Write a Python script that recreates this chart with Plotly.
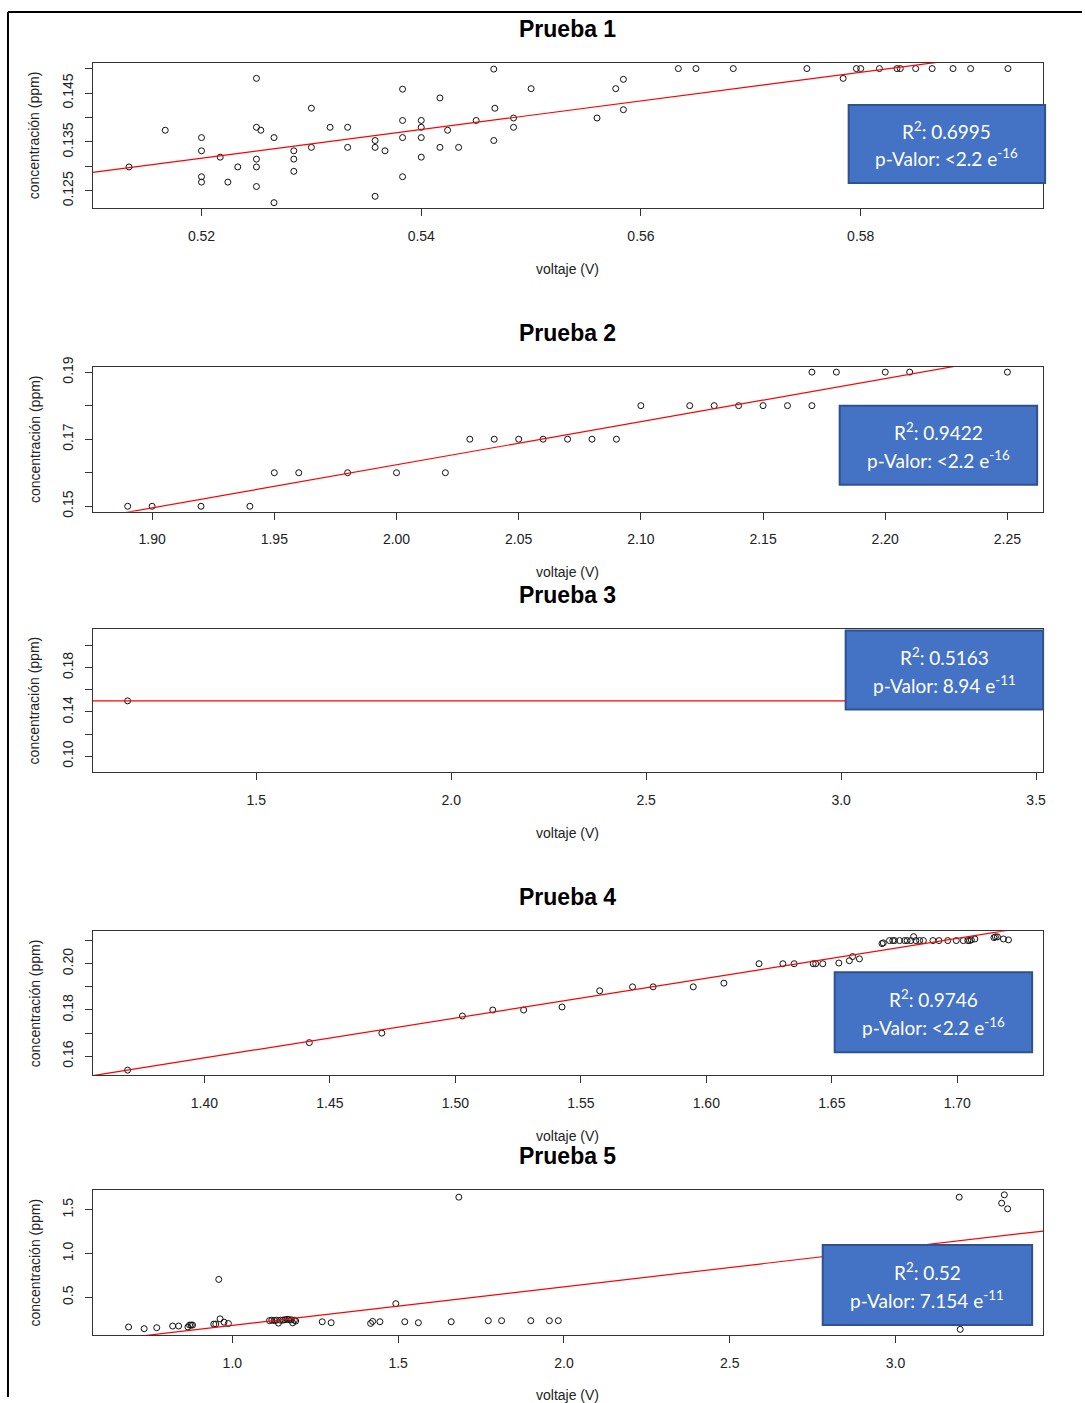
import plotly.graph_objects as go

W, H = 1085, 1403

# ---------------- data ----------------
p1_x = [0.5134, 0.5167, 0.5200, 0.5200, 0.5200, 0.5200, 0.5217, 0.5224, 0.5233, 0.5250,
        0.5250, 0.5254, 0.5250, 0.5250, 0.5250, 0.5266, 0.5266, 0.5284, 0.5284, 0.5284,
        0.5300, 0.5300, 0.5317, 0.5333, 0.5333, 0.5358, 0.5358, 0.5358, 0.5367, 0.5383,
        0.5383, 0.5383, 0.5383, 0.5400, 0.5400, 0.5400, 0.5400, 0.5417, 0.5417, 0.5424,
        0.5434, 0.5450, 0.5466, 0.5467, 0.5466, 0.5484, 0.5484, 0.5500, 0.5560, 0.5577,
        0.5584, 0.5584, 0.5634, 0.5650, 0.5684, 0.5751, 0.5784, 0.5796, 0.5800, 0.5817,
        0.5833, 0.5836, 0.5850, 0.5865, 0.5884, 0.5900, 0.5934]
p1_y = [0.1299, 0.1374, 0.1359, 0.1332, 0.1279, 0.1268, 0.1319, 0.1268, 0.1299, 0.1480,
        0.1380, 0.1374, 0.1315, 0.1299, 0.1259, 0.1359, 0.1226, 0.1332, 0.1315, 0.1290,
        0.1419, 0.1339, 0.1380, 0.1380, 0.1339, 0.1353, 0.1339, 0.1239, 0.1332, 0.1458,
        0.1394, 0.1359, 0.1279, 0.1394, 0.1380, 0.1359, 0.1319, 0.1440, 0.1339, 0.1374,
        0.1339, 0.1394, 0.1499, 0.1419, 0.1353, 0.1399, 0.1380, 0.1459, 0.1399, 0.1459,
        0.1478, 0.1416, 0.1500, 0.1500, 0.1500, 0.1500, 0.1480, 0.1500, 0.1500, 0.1500,
        0.1500, 0.1500, 0.1500, 0.1500, 0.1500, 0.1500, 0.1500]

p2_x = [1.89, 1.90, 1.92, 1.94, 1.95, 1.96, 1.98, 2.00, 2.02, 2.03, 2.04, 2.05, 2.06, 2.07,
        2.08, 2.09, 2.10, 2.12, 2.13, 2.14, 2.15, 2.16, 2.17, 2.17, 2.18, 2.20, 2.21, 2.25]
p2_y = [0.15, 0.15, 0.15, 0.15, 0.16, 0.16, 0.16, 0.16, 0.16, 0.17, 0.17, 0.17, 0.17, 0.17,
        0.17, 0.17, 0.18, 0.18, 0.18, 0.18, 0.18, 0.18, 0.18, 0.19, 0.19, 0.19, 0.19, 0.19]

p3_x = [1.17]
p3_y = [0.15]

p4_x = [1.3694, 1.4418, 1.4707, 1.5028, 1.5149, 1.5272, 1.5425, 1.5575, 1.5706, 1.5788,
        1.5948, 1.6070, 1.6210, 1.6305, 1.6350, 1.6426, 1.6436, 1.6464, 1.6528, 1.6570,
        1.6583, 1.6610, 1.6700, 1.6705, 1.6730, 1.6743, 1.6750, 1.6770, 1.6790, 1.6800,
        1.6815, 1.6826, 1.6835, 1.6850, 1.6865, 1.6903, 1.6927, 1.6962, 1.6996, 1.7024,
        1.7042, 1.7049, 1.7056, 1.7070, 1.7146, 1.7152, 1.7160, 1.7184, 1.7204]
p4_y = [0.1540, 0.1659, 0.1700, 0.1774, 0.1800, 0.1800, 0.1813, 0.1883, 0.1900, 0.1900,
        0.1900, 0.1916, 0.2000, 0.2000, 0.2000, 0.2000, 0.2000, 0.2000, 0.2003, 0.2013,
        0.2031, 0.2021, 0.2087, 0.2090, 0.2100, 0.2100, 0.2100, 0.2100, 0.2100, 0.2100,
        0.2100, 0.2117, 0.2100, 0.2100, 0.2100, 0.2100, 0.2100, 0.2100, 0.2100, 0.2100,
        0.2100, 0.2100, 0.2103, 0.2107, 0.2113, 0.2116, 0.2116, 0.2107, 0.2103]

p5_x = [0.687, 0.734, 0.772, 0.820, 0.838, 0.866, 0.871, 0.876, 0.880, 0.944,
        0.950, 0.959, 0.963, 0.975, 0.988, 1.112, 1.119, 1.127, 1.133, 1.139,
        1.145, 1.152, 1.158, 1.165, 1.171, 1.178, 1.182, 1.187, 1.191, 1.271,
        1.298, 1.417, 1.423, 1.445, 1.493, 1.520, 1.561, 1.660, 1.683, 1.772,
        1.812, 1.900, 1.956, 1.983, 3.192, 3.195, 3.320, 3.328, 3.338]
p5_y = [0.162, 0.143, 0.154, 0.173, 0.173, 0.162, 0.184, 0.184, 0.184, 0.195,
        0.195, 0.705, 0.255, 0.217, 0.202, 0.235, 0.240, 0.235, 0.240, 0.207,
        0.240, 0.240, 0.245, 0.250, 0.245, 0.245, 0.210, 0.240, 0.230, 0.222,
        0.211, 0.203, 0.226, 0.222, 0.428, 0.222, 0.211, 0.222, 1.644, 0.234,
        0.234, 0.234, 0.234, 0.234, 1.644, 0.135, 1.576, 1.671, 1.511]

# regression lines (intercept, slope)
fit_intercept = [-0.02035, -0.09463, 0.15, -0.08194, -0.2604]
fit_slope = [0.2924, 0.1285, 0.0, 0.1723, 0.4406]

titles = ["Prueba 1", "Prueba 2", "Prueba 3", "Prueba 4", "Prueba 5"]
r2_labels = ["0.6995", "0.9422", "0.5163", "0.9746", "0.52"]
p_labels = ["<2.2 e<sup>-16</sup>", "<2.2 e<sup>-16</sup>", "8.94 e<sup>-11</sup>",
            "<2.2 e<sup>-16</sup>", "7.154 e<sup>-11</sup>"]

x_tickvals = [
    [0.52, 0.54, 0.56, 0.58],
    [1.90, 1.95, 2.00, 2.05, 2.10, 2.15, 2.20, 2.25],
    [1.5, 2.0, 2.5, 3.0, 3.5],
    [1.40, 1.45, 1.50, 1.55, 1.60, 1.65, 1.70],
    [1.0, 1.5, 2.0, 2.5, 3.0],
]
x_ticktext = [
    ["0.52", "0.54", "0.56", "0.58"],
    ["1.90", "1.95", "2.00", "2.05", "2.10", "2.15", "2.20", "2.25"],
    ["1.5", "2.0", "2.5", "3.0", "3.5"],
    ["1.40", "1.45", "1.50", "1.55", "1.60", "1.65", "1.70"],
    ["1.0", "1.5", "2.0", "2.5", "3.0"],
]
# labelled y ticks
y_tickvals = [
    [0.125, 0.135, 0.145],
    [0.15, 0.17, 0.19],
    [0.10, 0.14, 0.18],
    [0.16, 0.18, 0.20],
    [0.5, 1.0, 1.5],
]
y_ticktext = [
    ["0.125", "0.135", "0.145"],
    ["0.15", "0.17", "0.19"],
    ["0.10", "0.14", "0.18"],
    ["0.16", "0.18", "0.20"],
    ["0.5", "1.0", "1.5"],
]
# all y tick marks (labelled and unlabelled)
y_tickmarks = [
    [0.125, 0.130, 0.135, 0.140, 0.145, 0.150],
    [0.15, 0.16, 0.17, 0.18, 0.19],
    [0.10, 0.12, 0.14, 0.16, 0.18, 0.20],
    [0.16, 0.17, 0.18, 0.19, 0.20, 0.21],
    [0.5, 1.0, 1.5],
]

# ---------------- layout geometry (target pixels in the photo) ----------------
x_ranges = [[0.5101, 0.5966], [1.8757, 2.2646], [1.0806, 3.518], [1.3555, 1.7342], [0.579, 3.445]]
y_ranges = [[0.12154, 0.15115], [0.1484, 0.1916], [0.0854, 0.2152], [0.1518, 0.2140], [0.0703, 1.7243]]
box_px = [(62, 207), (366, 511), (628, 772), (931, 1075), (1190, 1335)]
box_left, box_right = 93, 1046
title_y = [28, 332, 594, 897, 1156]
xtitle_y = [268, 571, 833, 1136, 1395]
stat_boxes = [(851, 1048, 104, 182), (842, 1040, 405, 484), (848, 1046, 630, 709),
              (837, 1035, 972, 1052), (825, 1035, 1245, 1325)]

# the photographed page comes out slightly compressed vertically; compensate
V_SCALE, V_OFF = 0.9886, 10.0


def px(x):
    return x / W


def py(y):
    return 1 - ((y - V_OFF) / V_SCALE) / H


fig = go.Figure()
layout = dict(
    width=W, height=H, margin=dict(l=0, r=0, t=0, b=0),
    paper_bgcolor="white", plot_bgcolor="white", showlegend=False,
    shapes=[], annotations=[],
)

series = [(p1_x, p1_y), (p2_x, p2_y), (p3_x, p3_y), (p4_x, p4_y), (p5_x, p5_y)]
axis_font = dict(family="Liberation Sans, Arial, sans-serif", size=14, color="#222")

for i in range(5):
    n = i + 1
    xa = "x" if n == 1 else f"x{n}"
    ya = "y" if n == 1 else f"y{n}"
    xs, ys = series[i]
    fig.add_trace(go.Scatter(
        x=xs, y=ys, mode="markers", xaxis=xa, yaxis=ya,
        marker=dict(symbol="circle-open", size=6, color="#111", line=dict(width=1, color="#111")),
        hoverinfo="skip"))
    lx = x_ranges[i]
    ly = [fit_intercept[i] + fit_slope[i] * v for v in lx]
    fig.add_trace(go.Scatter(
        x=lx, y=ly, mode="lines", xaxis=xa, yaxis=ya,
        line=dict(color="#ff0000", width=1.2), hoverinfo="skip"))

    top, bot = box_px[i]
    common = dict(showline=True, mirror=True, linecolor="#333", linewidth=1,
                  ticks="outside", ticklen=7, tickcolor="#333", tickwidth=1,
                  showgrid=False, zeroline=False, tickfont=axis_font, fixedrange=True)
    layout["xaxis" if n == 1 else f"xaxis{n}"] = dict(
        common, domain=[px(box_left), px(box_right)], anchor=ya, range=x_ranges[i],
        tickmode="array", tickvals=x_tickvals[i], ticktext=x_ticktext[i],
        ticklabelstandoff=8)
    layout["yaxis" if n == 1 else f"yaxis{n}"] = dict(
        common, domain=[py(bot), py(top)], anchor=xa, range=y_ranges[i],
        tickmode="array", tickvals=y_tickvals[i], ticktext=y_ticktext[i],
        tickangle=-90, ticklabelstandoff=6,
        minor=dict(tickmode="array", tickvals=y_tickmarks[i], ticks="outside",
                   ticklen=7, tickcolor="#333", tickwidth=1, showgrid=False))

    # panel title
    layout["annotations"].append(dict(
        x=px(569), y=py(title_y[i]), xref="paper", yref="paper", showarrow=False,
        text=f"<b>{titles[i]}</b>", xanchor="center", yanchor="middle",
        font=dict(family="Liberation Sans, Arial, sans-serif", size=23, color="#000")))
    # x axis title
    layout["annotations"].append(dict(
        x=px(569), y=py(xtitle_y[i]), xref="paper", yref="paper", showarrow=False,
        text="voltaje (V)", xanchor="center", yanchor="middle",
        font=dict(family="Liberation Sans, Arial, sans-serif", size=14, color="#222")))
    # y axis title
    layout["annotations"].append(dict(
        x=px(35), y=py((top + bot) / 2), xref="paper", yref="paper", showarrow=False,
        text="concentración (ppm)", textangle=-90, xanchor="center", yanchor="middle",
        font=dict(family="Liberation Sans, Arial, sans-serif", size=14, color="#222")))

    # stats box
    x0, x1, y0, y1 = stat_boxes[i]
    layout["shapes"].append(dict(
        type="rect", xref="paper", yref="paper",
        x0=px(x0), x1=px(x1), y0=py(y1), y1=py(y0),
        fillcolor="#4472C4", line=dict(color="#2F528F", width=2), layer="above"))
    cx = (x0 + x1) / 2
    cy = (y0 + y1) / 2
    stat_font = dict(family="Lato, Open Sans, sans-serif", size=19, color="white")
    layout["annotations"].append(dict(
        x=px(cx), y=py(cy - 13.5), xref="paper", yref="paper", showarrow=False,
        text=f"R<sup>2</sup>: {r2_labels[i]}", xanchor="center", yanchor="middle",
        font=stat_font))
    layout["annotations"].append(dict(
        x=px(cx), y=py(cy + 14), xref="paper", yref="paper", showarrow=False,
        text=f"p-Valor: {p_labels[i]}", xanchor="center", yanchor="middle",
        font=stat_font))

# outer frame lines (top and left)
layout["shapes"].append(dict(type="line", xref="paper", yref="paper",
                             x0=px(8), x1=1, y0=py(11), y1=py(11),
                             line=dict(color="black", width=2)))
layout["shapes"].append(dict(type="line", xref="paper", yref="paper",
                             x0=px(8), x1=px(8), y0=py(11), y1=0,
                             line=dict(color="black", width=2)))

fig.update_layout(**layout)
fig.write_html("out.html")
